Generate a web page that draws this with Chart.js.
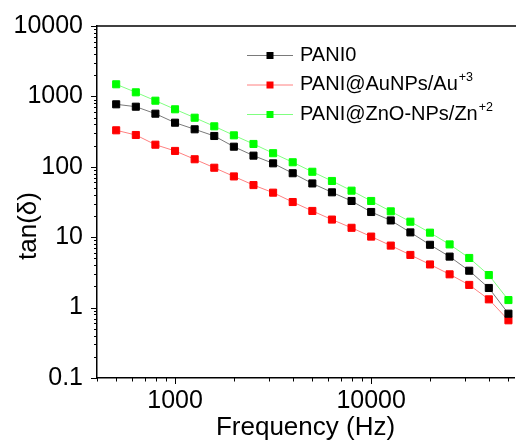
<!DOCTYPE html>
<html>
<head>
<meta charset="utf-8">
<script src="https://cdn.jsdelivr.net/npm/chart.js@4.4.1/dist/chart.umd.min.js"></script>
<style>
  html, body { margin: 0; padding: 0; background: #fff; }
  #wrap { width: 520px; height: 443px; position: relative; }
</style>
</head>
<body>
<div id="wrap"><canvas id="chart" width="520" height="443"></canvas></div>
<script>
  "use strict";

  // frequency (Hz), 10 points per decade
  const frequencies = [501, 631, 794, 1000, 1259, 1585, 1995, 2512, 3162, 3981, 5012,
    6310, 7943, 10000, 12589, 15849, 19953, 25119, 31623, 39811, 50119];

  const pani0 = [772, 714, 568, 423, 341, 274, 193, 144, 112, 81, 58,
    43.4, 32.7, 22.8, 17.3, 11.7, 7.8, 5.3, 3.34, 1.9, 0.82];
  const paniAu = [330, 283, 206, 168, 128, 97, 73, 55, 42.9, 31.6, 23.6,
    17.8, 13.6, 10.2, 7.6, 5.6, 4.1, 2.97, 2.1, 1.31, 0.66];
  const paniZnO = [1486, 1143, 869, 656, 498, 376, 280, 211, 156, 116, 85,
    62.9, 45.8, 32.7, 23.3, 16.6, 11.6, 7.9, 5.07, 2.9, 1.28];

  const seriesNames = ["PANI0", "PANI@AuNPs/Au", "PANI@ZnO-NPs/Zn"];
  const seriesSups = ["", "+3", "+2"];
  const xTickLabels = [1000, 10000];
  const yTickLabels = [0.1, 1, 10, 100, 1000, 10000];

  const FONT = "'Liberation Sans', Arial, sans-serif";
  Chart.defaults.font.family = FONT;
  Chart.defaults.color = "#000";

  function makeDataset(label, values, markColor, lineColor) {
    return {
      label,
      data: frequencies.map((f, i) => ({x: f, y: values[i]})),
      borderColor: lineColor,
      borderWidth: 1,
      pointStyle: "rect",
      pointRadius: 5,
      pointBorderWidth: 1,
      pointBackgroundColor: markColor,
      pointBorderColor: markColor,
      tension: 0,
    };
  }

  const datasets = [
    makeDataset(seriesNames[0], pani0, "#000000", "#7a7a7a"),
    makeDataset(seriesNames[1], paniAu, "#ff0000", "#ff8080"),
    makeDataset(seriesNames[2], paniZnO, "#00ff00", "#80ff80"),
  ];

  // minor / major tick marks, top frame, y title and the legend
  const decorations = {
    id: "decorations",
    afterDraw(chart) {
      const ctx = chart.ctx;
      const area = chart.chartArea;
      const xs = chart.scales.x;
      const ys = chart.scales.y;
      ctx.save();
      ctx.strokeStyle = "#000";
      ctx.lineWidth = 1.5;
      ctx.beginPath();
      ctx.moveTo(area.left - 0.75, area.top);
      ctx.lineTo(area.right + 2, area.top);
      ctx.stroke();

      ctx.lineWidth = 1;
      ctx.beginPath();
      for (let e = Math.floor(Math.log10(xs.min)); e <= Math.ceil(Math.log10(xs.max)); e++) {
        for (let k = 1; k < 10; k++) {
          const v = k * Math.pow(10, e);
          if (v < xs.min || v > xs.max) continue;
          const px = Math.round(xs.getPixelForValue(v)) + 0.5;
          ctx.moveTo(px, area.bottom);
          ctx.lineTo(px, area.bottom + (k === 1 ? 6 : 3.5));
        }
      }
      for (let e = Math.floor(Math.log10(ys.min)); e <= Math.ceil(Math.log10(ys.max)); e++) {
        for (let k = 1; k < 10; k++) {
          const v = k * Math.pow(10, e);
          if (v < ys.min * 0.999 || v > ys.max * 1.001) continue;
          const py = Math.round(ys.getPixelForValue(v)) + 0.5;
          ctx.moveTo(area.left, py);
          ctx.lineTo(area.left - (k === 1 ? 6 : 3), py);
        }
      }
      ctx.stroke();

      // y axis title
      ctx.fillStyle = "#000";
      ctx.font = "26px " + FONT;
      ctx.translate(36, 226);
      ctx.rotate(-Math.PI / 2);
      ctx.textAlign = "center";
      ctx.textBaseline = "alphabetic";
      ctx.fillText("tan(\u03b4)", 0, 0);
      ctx.setTransform(1, 0, 0, 1, 0, 0);

      // legend
      const rowY = [55, 84.5, 114];
      chart.data.datasets.forEach((ds, i) => {
        const y = rowY[i];
        ctx.strokeStyle = ds.borderColor;
        ctx.lineWidth = 1;
        ctx.beginPath();
        ctx.moveTo(247, y + 0.5);
        ctx.lineTo(293, y + 0.5);
        ctx.stroke();
        ctx.fillStyle = ds.pointBackgroundColor;
        ctx.fillRect(266.5, y - 3, 7, 7);
        ctx.fillStyle = "#000";
        ctx.font = "20px " + FONT;
        ctx.textAlign = "left";
        ctx.textBaseline = "middle";
        ctx.fillText(ds.label, 300, y);
        if (seriesSups[i]) {
          const w = ctx.measureText(ds.label).width;
          ctx.font = "12.5px " + FONT;
          ctx.textBaseline = "alphabetic";
          ctx.fillText(seriesSups[i], 300 + w + 1, y - 3.5);
        }
      });
      ctx.restore();
    },
  };

  new Chart(document.getElementById("chart"), {
    type: "line",
    data: {datasets},
    options: {
      responsive: false,
      animation: false,
      devicePixelRatio: 1,
      layout: {padding: {top: 26, right: 0, bottom: 0, left: 0}},
      plugins: {legend: {display: false}, tooltip: {enabled: false}},
      scales: {
        x: {
          type: "logarithmic",
          position: "bottom",
          min: 400,
          max: 53500,
          afterBuildTicks: (s) => { s.ticks = xTickLabels.map((v) => ({value: v, major: true})); },
          afterFit: (s) => { s.height = 65; },
          ticks: {
            callback: (v) => String(v),
            font: {size: 25},
            color: "#000",
            padding: 2.5,
            maxRotation: 0,
            autoSkip: false,
          },
          grid: {display: true, drawOnChartArea: false, drawTicks: true, tickLength: 6, tickColor: "rgba(0,0,0,0)"},
          border: {display: true, color: "#000", width: 1.5},
          title: {display: true, text: "Frequency (Hz)", font: {size: 26}, color: "#000", padding: 0},
        },
        y: {
          type: "logarithmic",
          position: "left",
          min: 0.1,
          max: 10000,
          afterBuildTicks: (s) => { s.ticks = yTickLabels.map((v) => ({value: v, major: true})); },
          afterFit: (s) => { s.width = 97; },
          ticks: {
            callback: (v) => String(v),
            font: {size: 25},
            color: "#000",
            padding: 8,
            autoSkip: false,
          },
          grid: {display: true, drawOnChartArea: false, drawTicks: true, tickLength: 6, tickColor: "rgba(0,0,0,0)"},
          border: {display: true, color: "#000", width: 1.5},
          title: {display: false},
        },
      },
    },
    plugins: [decorations],
  });
</script>
</body>
</html>
